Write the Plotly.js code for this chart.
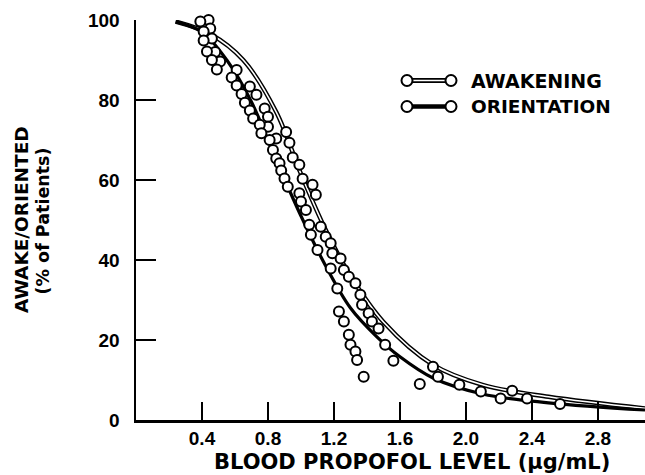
<!DOCTYPE html>
<html>
<head>
<meta charset="utf-8">
<script src="https://cdn.plot.ly/plotly-3.0.1.min.js"></script>
<style>
html,body{margin:0;padding:0;background:#fff;}
#chart{width:645px;height:475px;}
</style>
</head>
<body>
<div id="chart"></div>
<script>
// ---- Data ----
const awakeningX = [0.44,0.45,0.46,0.48,0.51,0.61,0.69,0.73,0.78,0.80,0.80,0.85,0.91,0.93,0.95,0.99,1.01,1.07,1.09,1.12,1.15,1.18,1.19,1.24,1.26,1.29,1.33,1.36,1.37,1.41,1.43,1.47,1.51,1.80,1.83,2.09,2.28];
const awakeningY = [100,97.9,95.4,92.0,89.6,87.5,83.4,81.3,77.9,75.8,73.3,70.4,72.0,69.3,65.6,63.8,60.3,58.8,56.3,48.3,45.8,44.2,41.7,40.4,37.5,35.8,34.2,31.3,28.8,26.7,24.6,22.9,18.8,13.3,10.8,7.1,7.3];

const orientationX = [0.39,0.41,0.41,0.43,0.46,0.49,0.58,0.61,0.64,0.66,0.69,0.71,0.75,0.76,0.81,0.83,0.85,0.87,0.88,0.90,0.92,0.99,1.00,1.03,1.05,1.06,1.10,1.18,1.22,1.23,1.26,1.29,1.30,1.33,1.34,1.38,1.56,1.72,1.96,2.21,2.37,2.57];
const orientationY = [99.6,97.1,94.9,92.1,90.0,87.6,85.6,83.6,81.5,79.3,77.4,75.4,73.8,71.7,70.0,67.5,65.4,64.2,62.4,60.4,58.3,56.7,54.6,52.5,48.8,46.3,42.5,37.9,32.9,27.1,24.6,21.3,18.8,17.1,15.0,10.8,14.8,9.0,8.8,5.4,5.4,4.0];

const awakeningCurveX = [0.24,0.45,0.65,0.85,1.00,1.15,1.30,1.50,1.80,2.10,2.50,3.085];
const awakeningCurveY = [99.6,96.5,90.0,77.0,61.5,47.5,36.0,24.5,13.8,8.8,5.8,2.9];

const orientationCurveX = [0.24,0.40,0.55,0.70,0.85,1.00,1.15,1.30,1.46,1.60,1.80,2.10,2.50,3.085];
const orientationCurveY = [99.6,97.0,90.0,79.5,65.0,51.0,38.5,28.0,20.8,15.8,10.5,6.5,4.3,2.5];

const xTickVals = [0.4,0.8,1.2,1.6,2.0,2.4,2.8];
const xTickText = ['0.4','0.8','1.2','1.6','2.0','2.4','2.8'];
const yTickVals = [0,20,40,60,80,100];
const yTickText = ['0','20','40','60','80','100'];

const legendLabels = ['AWAKENING','ORIENTATION'];
const xTitle = 'BLOOD PROPOFOL LEVEL (\u00b5g/mL)';
const yTitle1 = 'AWAKE/ORIENTED';
const yTitle2 = '(% of Patients)';

// ---- Styling / layout ----
const TICKFONT = {family:'Liberation Sans, Arial, sans-serif', size:19, color:'#000', weight:700};
const TITLEFONT = {family:'DejaVu Sans, sans-serif', size:19, color:'#000', weight:700};

const markerStyle = {symbol:'circle', size:10, color:'#fff', line:{color:'#000', width:2}};

const traces = [
  {x:awakeningCurveX, y:awakeningCurveY, mode:'lines', line:{color:'#000', width:4.5, shape:'spline', smoothing:1}, hoverinfo:'skip', showlegend:false},
  {x:awakeningCurveX, y:awakeningCurveY, mode:'lines', line:{color:'#fff', width:1.6, shape:'spline', smoothing:1}, hoverinfo:'skip', showlegend:false},
  {x:orientationCurveX, y:orientationCurveY, mode:'lines', line:{color:'#000', width:3.2, shape:'spline', smoothing:1}, hoverinfo:'skip', showlegend:false},
  {x:awakeningX, y:awakeningY, mode:'markers', marker:markerStyle, name:legendLabels[0], showlegend:false, cliponaxis:false},
  {x:orientationX, y:orientationY, mode:'markers', marker:markerStyle, name:legendLabels[1], showlegend:false, cliponaxis:false}
];

// plot area in pixels: x 136..645, y 20..420
const L=136, R=645, T=20, B=420;
const px = v => (v-L)/(R-L);
const py = v => (B-v)/(B-T);

const shapes = [];
const rows = [80.5, 106.5];
rows.forEach((ry, i) => {
  shapes.push({type:'line', xref:'paper', yref:'paper', x0:px(412), x1:px(446), y0:py(ry), y1:py(ry), line:{color:'#000', width: i===0 ? 5 : 4.5}, layer:'above'});
  if (i===0) shapes.push({type:'line', xref:'paper', yref:'paper', x0:px(412), x1:px(446), y0:py(ry), y1:py(ry), line:{color:'#fff', width:1.6}, layer:'above'});
  [407, 451].forEach(cx => {
    shapes.push({type:'circle', xref:'paper', yref:'paper', x0:px(cx-5.5), x1:px(cx+5.5), y0:py(ry+5.5), y1:py(ry-5.5), fillcolor:'#fff', line:{color:'#000', width:2}, layer:'above'});
  });
});

const annotations = [
  {text:legendLabels[0], xref:'paper', yref:'paper', x:px(469), y:py(rows[0]), xanchor:'left', yanchor:'middle', showarrow:false, font:TITLEFONT},
  {text:legendLabels[1], xref:'paper', yref:'paper', x:px(469), y:py(rows[1]), xanchor:'left', yanchor:'middle', showarrow:false, font:Object.assign({}, TITLEFONT, {size:18.5})},
  {text:xTitle, xref:'paper', yref:'paper', x:px(412), y:py(462), xanchor:'center', yanchor:'middle', showarrow:false, font:Object.assign({}, TITLEFONT, {size:21})},
  {text:yTitle1, xref:'paper', yref:'paper', x:px(21), y:py(220), xanchor:'center', yanchor:'middle', textangle:-90, showarrow:false, font:Object.assign({}, TITLEFONT, {size:18.5})},
  {text:yTitle2, xref:'paper', yref:'paper', x:px(42.5), y:py(221), xanchor:'center', yanchor:'middle', textangle:-90, showarrow:false, font:Object.assign({}, TITLEFONT, {size:17.5})}
];

const layout = {
  width:645, height:475,
  margin:{l:L, r:645-R, t:T, b:475-B},
  paper_bgcolor:'#fff', plot_bgcolor:'#fff',
  showlegend:false,
  xaxis:{
    range:[0, 3.085], showgrid:false, zeroline:false,
    showline:true, linecolor:'#000', linewidth:2.5,
    ticks:'inside', ticklen:18, tickwidth:2, tickcolor:'#000',
    tickvals:xTickVals, ticktext:xTickText, tickfont:TICKFONT,
    fixedrange:true
  },
  yaxis:{
    range:[0, 100], showgrid:false, zeroline:false,
    showline:true, linecolor:'#000', linewidth:2.5,
    ticks:'inside', ticklen:20, tickwidth:2, tickcolor:'#000',
    tickvals:yTickVals, ticktext:yTickText, tickfont:TICKFONT,
    ticklabelstandoff:10,
    fixedrange:true
  },
  shapes:shapes,
  annotations:annotations
};

Plotly.newPlot('chart', traces, layout, {displayModeBar:false, staticPlot:true});
</script>
</body>
</html>
